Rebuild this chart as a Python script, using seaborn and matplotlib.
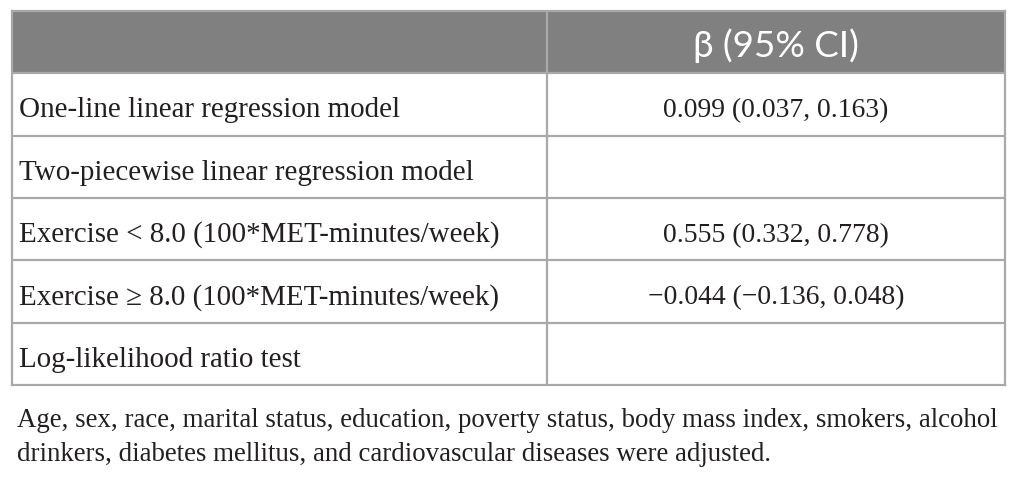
import numpy as np
import matplotlib.pyplot as plt
from matplotlib.colors import ListedColormap
import seaborn as sns

# Table content
header = ["", "\u03b2 (95% CI)"]
row_labels = [
    "One-line linear regression model",
    "Two-piecewise linear regression model",
    "Exercise < 8.0 (100*MET-minutes/week)",
    "Exercise \u2265 8.0 (100*MET-minutes/week)",
    "Log-likelihood ratio test",
]
ci_values = [
    "0.099 (0.037, 0.163)",
    "",
    "0.555 (0.332, 0.778)",
    "\u22120.044 (\u22120.136, 0.048)",
    "",
]
footnote = [
    "Age, sex, race, marital status, education, poverty status, body mass index, smokers, alcohol",
    "drinkers, diabetes mellitus, and cardiovascular diseases were adjusted.",
]

sns.set_style("white")

W, H = 1018, 482
fig = plt.figure(figsize=(W / 100, H / 100), dpi=100)
ax = fig.add_axes([12 / W, 97 / H, 993 / W, 374 / H])

# 13 grid units across: first column takes 7, second takes 6
ncols = 13
split = 7
n_rows = len(row_labels) + 1
cells = np.zeros((n_rows, ncols))
cells[0, :] = 1  # header row shaded

sns.heatmap(cells, ax=ax, cmap=ListedColormap(["white", "#808080"]),
            cbar=False, linewidths=0, xticklabels=False, yticklabels=False)

grid_col = "#a9a9a9"
lw = 1.6
for r in range(1, n_rows):
    ax.axhline(r, color=grid_col, lw=lw)
ax.axvline(split, color=grid_col, lw=lw)
for sp in ax.spines.values():
    sp.set_visible(True)
    sp.set_color(grid_col)
    sp.set_linewidth(lw)

serif = ["Liberation Serif", "DejaVu Serif"]
ink = "#231f20"
mid2 = (split + ncols) / 2

ax.text(mid2, 0.74, header[1], ha="center", va="baseline", color="white",
        fontsize=26.5, family=["Lato", "DejaVu Sans"])

for i, (lab, val) in enumerate(zip(row_labels, ci_values)):
    y = i + 1.705
    ax.text(0.09, y, lab, ha="left", va="baseline", fontsize=20.9,
            family=serif, color=ink)
    if val:
        ax.text(mid2, y, val, ha="center", va="baseline", fontsize=19.9,
                family=serif, color=ink)

fig.text(17 / W, 1 - 427 / H, footnote[0], ha="left", va="baseline",
         fontsize=19.4, family=serif, color=ink)
fig.text(17 / W, 1 - 461 / H, footnote[1], ha="left", va="baseline",
         fontsize=19.4, family=serif, color=ink)

fig.savefig("out.png", dpi=100)
